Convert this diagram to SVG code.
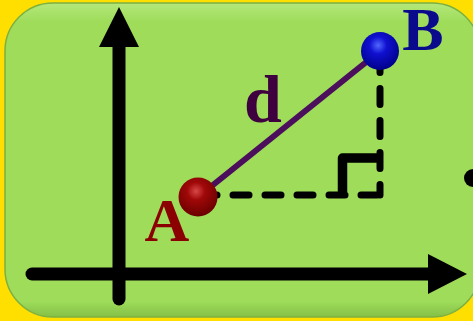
<svg xmlns="http://www.w3.org/2000/svg" width="473" height="321" viewBox="0 0 473 321">
<defs>
<style>
.axis{stroke:#000;stroke-width:13;stroke-linecap:round;fill:none}
.dash{stroke:#000;stroke-width:7;stroke-linecap:round;stroke-dasharray:16 16;fill:none}
.lbl{font-family:"Liberation Serif","Times New Roman",serif;font-weight:bold}
</style>
<linearGradient id="gBg" x1="0" y1="0" x2="0" y2="1">
<stop offset="0" stop-color="#b4e87a"/>
<stop offset="0.06" stop-color="#9edc5a"/>
<stop offset="0.95" stop-color="#9edc5a"/>
<stop offset="1" stop-color="#84c046"/>
</linearGradient>
<radialGradient id="gRed" cx="0.45" cy="0.35" r="0.65">
<stop offset="0" stop-color="#d84848"/>
<stop offset="0.35" stop-color="#a00808"/>
<stop offset="1" stop-color="#6a0000"/>
</radialGradient>
<radialGradient id="gBlue" cx="0.45" cy="0.35" r="0.65">
<stop offset="0" stop-color="#5068ff"/>
<stop offset="0.35" stop-color="#1010d0"/>
<stop offset="1" stop-color="#00008a"/>
</radialGradient>
</defs>
<rect x="0" y="0" width="473" height="321" fill="#ffdf00"/>
<g id="panel">
<rect x="5" y="3" width="475" height="314" rx="48" ry="48" fill="url(#gBg)" stroke="#7cb040" stroke-width="1.5"/>
<circle cx="473" cy="178" r="9" fill="#000"/>
</g>
<g id="connectors">
<line class="axis" x1="119" y1="299" x2="119" y2="44"/>
<polygon points="119,7 99,47 139,47" fill="#000"/>
<line class="axis" x1="32" y1="274" x2="432" y2="274"/>
<polygon points="467,274 428,254 428,294" fill="#000"/>
<line x1="198" y1="197" x2="380" y2="51" stroke="#4b0f5c" stroke-width="6"/>
<line class="dash" x1="377" y1="195" x2="199" y2="195"/>
<line class="dash" x1="380" y1="56.5" x2="380" y2="195"/>
<polyline points="342.5,192 342.5,158 378,158" fill="none" stroke="#000" stroke-width="9.5" stroke-linejoin="round"/>
</g>
<g id="A">
<circle cx="198" cy="197" r="19.5" fill="url(#gRed)"/>
<text class="lbl" x="167" y="241" font-size="62" fill="#8b0000" text-anchor="middle">A</text>
</g>
<g id="B">
<circle cx="380" cy="51" r="19" fill="url(#gBlue)"/>
<text class="lbl" x="423" y="50" font-size="62" fill="#0a0a8c" text-anchor="middle">B</text>
</g>
<g id="d">
<text class="lbl" x="263" y="122" font-size="68" fill="#3f0040" text-anchor="middle">d</text>
</g>
</svg>
